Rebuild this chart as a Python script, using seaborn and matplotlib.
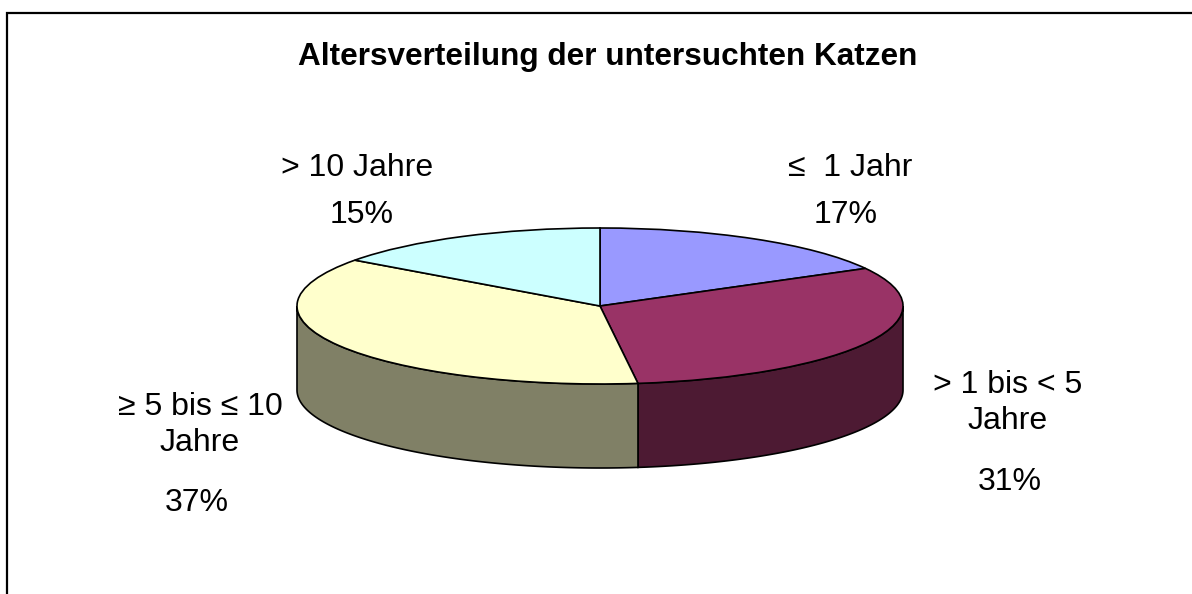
import numpy as np
import matplotlib
matplotlib.use("Agg")
import matplotlib.pyplot as plt
from matplotlib.patches import Rectangle
import seaborn as sns

# ---- data ----
categories = ["\u2264  1 Jahr", "> 1 bis < 5\nJahre", "\u2265 5 bis \u2264 10\nJahre", "> 10 Jahre"]
values = [17, 31, 37, 15]
top_colors = ["#9999FF", "#993366", "#FFFFCC", "#CCFFFF"]
side_colors = ["#4D4D80", "#4D1A33", "#808066", "#668080"]
title = "Altersverteilung der untersuchten Katzen"

sns.set_theme(style="white")
plt.rcParams["font.family"] = ["Liberation Sans", "DejaVu Sans"]
plt.rcParams["text.color"] = "black"

W, H = 1192, 594
fig = plt.figure(figsize=(W / 100, H / 100), dpi=100)
fig.patch.set_facecolor("white")

def fx(px):
    return px / W

def fy(py):
    return 1 - py / H

# outer frame (only left and top edges visible)
fig.patches.append(Rectangle((fx(7), -0.2), 1.5, fy(13) + 0.2, transform=fig.transFigure,
                             fill=False, edgecolor="black", linewidth=1.6))

# pie geometry in pixels
left, right, top, bottom = 297, 903, 228, 468
depth = 84 / 78.0
ax = fig.add_axes([fx(left), fy(bottom), (right - left) / W, (bottom - top) / H])

wedges, _ = ax.pie(values, colors=top_colors, startangle=90, counterclock=False,
                   wedgeprops=dict(edgecolor="black", linewidth=1.2))
for w in wedges:
    w.set_clip_on(False)
    w.set_zorder(3)

ax.set_aspect("auto")
ax.set_xlim(-1, 1)
ax.set_ylim(-1 - depth, 1)
ax.axis("off")

# side walls (visible front half)
total = float(sum(values))
cum = np.concatenate([[0], np.cumsum(values)]) / total * 360.0
for i in range(len(values)):
    lo = max(cum[i], 90.0)
    hi = min(cum[i + 1], 270.0)
    if lo >= hi:
        continue
    t = np.radians(np.linspace(lo, hi, 200))
    xs = np.sin(t)
    ys = np.cos(t)
    px = np.concatenate([xs, xs[::-1]])
    py = np.concatenate([ys, ys[::-1] - depth])
    ax.fill(px, py, facecolor=side_colors[i], edgecolor="black", linewidth=1.2,
            zorder=2, clip_on=False)

# title
fig.text(fx(608), fy(57), title, ha="center", va="center", fontsize=22.7,
         fontweight="bold", color="black")

# labels
fs = 23
label_pos = [(850, 168), (1008, 403), (200, 425), (357, 168)]
pct_pos = [(846, 215), (1010, 482), (197, 503), (362, 215)]
for lab, v, (lx, ly), (qx, qy) in zip(categories, values, label_pos, pct_pos):
    fig.text(fx(lx), fy(ly), lab, ha="center", va="center", fontsize=fs,
             linespacing=1.24, color="black")
    fig.text(fx(qx), fy(qy), f"{v}%", ha="center", va="center", fontsize=fs, color="black")

fig.savefig("out.png", dpi=100, facecolor="white")
